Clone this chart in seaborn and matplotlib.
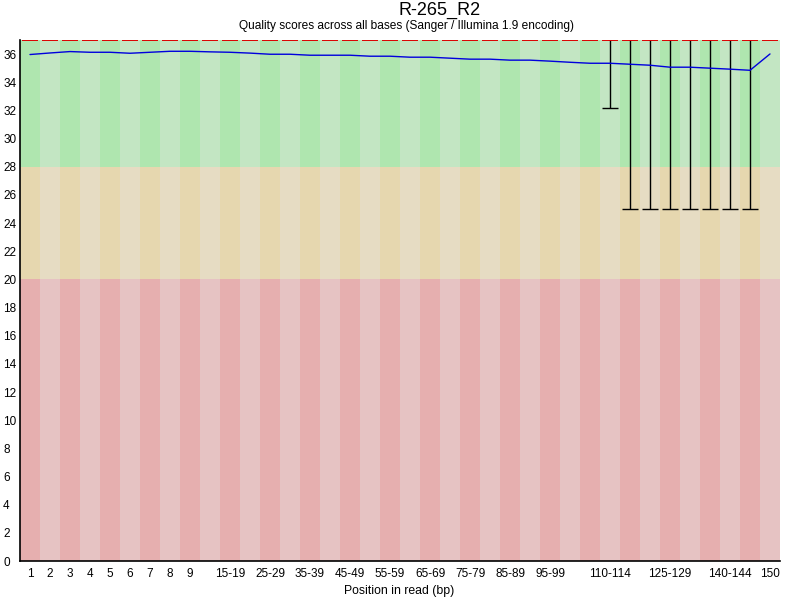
import numpy as np
import pandas as pd
import matplotlib
matplotlib.use("Agg")
import matplotlib.pyplot as plt
import seaborn as sns

# Position groups along the read (FastQC style binning)
positions = [str(i) for i in range(1, 10)] + \
    [f"{s}-{s + 4}" for s in range(10, 150, 5)] + ["150"]

# Mean quality per position group
mean_q = [35.97, 36.08, 36.18, 36.13, 36.13, 36.06, 36.13, 36.20, 36.20, 36.16,
          36.13, 36.07, 35.99, 35.99, 35.92, 35.92, 35.92, 35.85, 35.85, 35.78,
          35.78, 35.71, 35.64, 35.64, 35.57, 35.57, 35.50, 35.42, 35.35, 35.35,
          35.28, 35.21, 35.07, 35.07, 35.00, 34.93, 34.85, 36.01]

# Median, 10th and 90th percentiles
median_q = [37] * 38
lower_q = [37] * 29 + [32.2] + [25] * 7 + [37]
upper_q = [37] * 38

shown_labels = ["1", "2", "3", "4", "5", "6", "7", "8", "9",
                "15-19", "25-29", "35-39", "45-49", "55-59", "65-69",
                "75-79", "85-89", "95-99", "110-114", "125-129", "140-144", "150"]

sample_name = "R-265_R2"
subtitle = "Quality scores across all bases (Sanger / Illumina 1.9 encoding)"

# quality bands: (low, high, light colour, dark colour)
bands = [(0, 20, "#e6c3c3", "#e6afaf"),
         (20, 28, "#e6dcc3", "#e6d7af"),
         (28, 37, "#c3e6c3", "#afe6af")]

df = pd.DataFrame({"pos": positions, "idx": np.arange(len(positions)),
                   "mean": mean_q, "median": median_q,
                   "low": lower_q, "high": upper_q})

sns.set_style("white")
plt.rcParams["font.family"] = ["Liberation Sans", "DejaVu Sans"]
plt.rcParams["text.color"] = "black"

fig = plt.figure(figsize=(8, 6), dpi=100)
ax = fig.add_axes([0.025, 0.065, 0.95, 0.8683])

# background stripes
for lo, hi, light, dark in bands:
    cols = [dark if i % 2 == 0 else light for i in df["idx"]]
    ax.bar(df["idx"], hi - lo, bottom=lo, width=1.0, color=cols,
           linewidth=0, zorder=0)

# whiskers (10th - 90th percentile)
has_w = df[df["low"] < df["high"]]
ax.vlines(has_w["idx"], has_w["low"], has_w["high"], color="black", lw=1.0, zorder=2)
ax.hlines(has_w["low"], has_w["idx"] - 0.42, has_w["idx"] + 0.42,
          color="black", lw=1.0, zorder=2)

# median segments
med = ax.hlines(df["median"], df["idx"] - 0.41, df["idx"] + 0.41, color="#dd0000",
                lw=1.4, zorder=3)
med.set_capstyle("butt")

# mean line
sns.lineplot(data=df, x="idx", y="mean", color="#0000dd", lw=1.0, ax=ax, zorder=4)

ax.set_xlim(-0.5, len(positions) - 0.5)
ax.set_ylim(0, 37)
ax.set_yticks(range(0, 37, 2))
ax.set_yticklabels([str(v) for v in range(0, 37, 2)], fontsize=8.5, ha="left")
tick_idx = [positions.index(p) for p in shown_labels]
ax.set_xticks(tick_idx)
ax.set_xticklabels(shown_labels, fontsize=8.5)
ax.tick_params(axis="x", length=0, pad=5, colors="black")
ax.tick_params(axis="y", length=0, pad=12.2, colors="black")
ax.set_xlabel("")
ax.set_ylabel("")

for side in ["top", "right"]:
    ax.spines[side].set_visible(False)
for side in ["left", "bottom"]:
    ax.spines[side].set_color("black")
    ax.spines[side].set_linewidth(1.2)

fig.text(0.55, 0.9745, sample_name, ha="center", va="baseline", fontsize=13)
fig.text(0.508, 0.951, subtitle, ha="center", va="baseline", fontsize=8.6)
fig.text(0.499, 0.010, "Position in read (bp)", ha="center", va="baseline", fontsize=8.8)

fig.savefig("out.png", dpi=100)
